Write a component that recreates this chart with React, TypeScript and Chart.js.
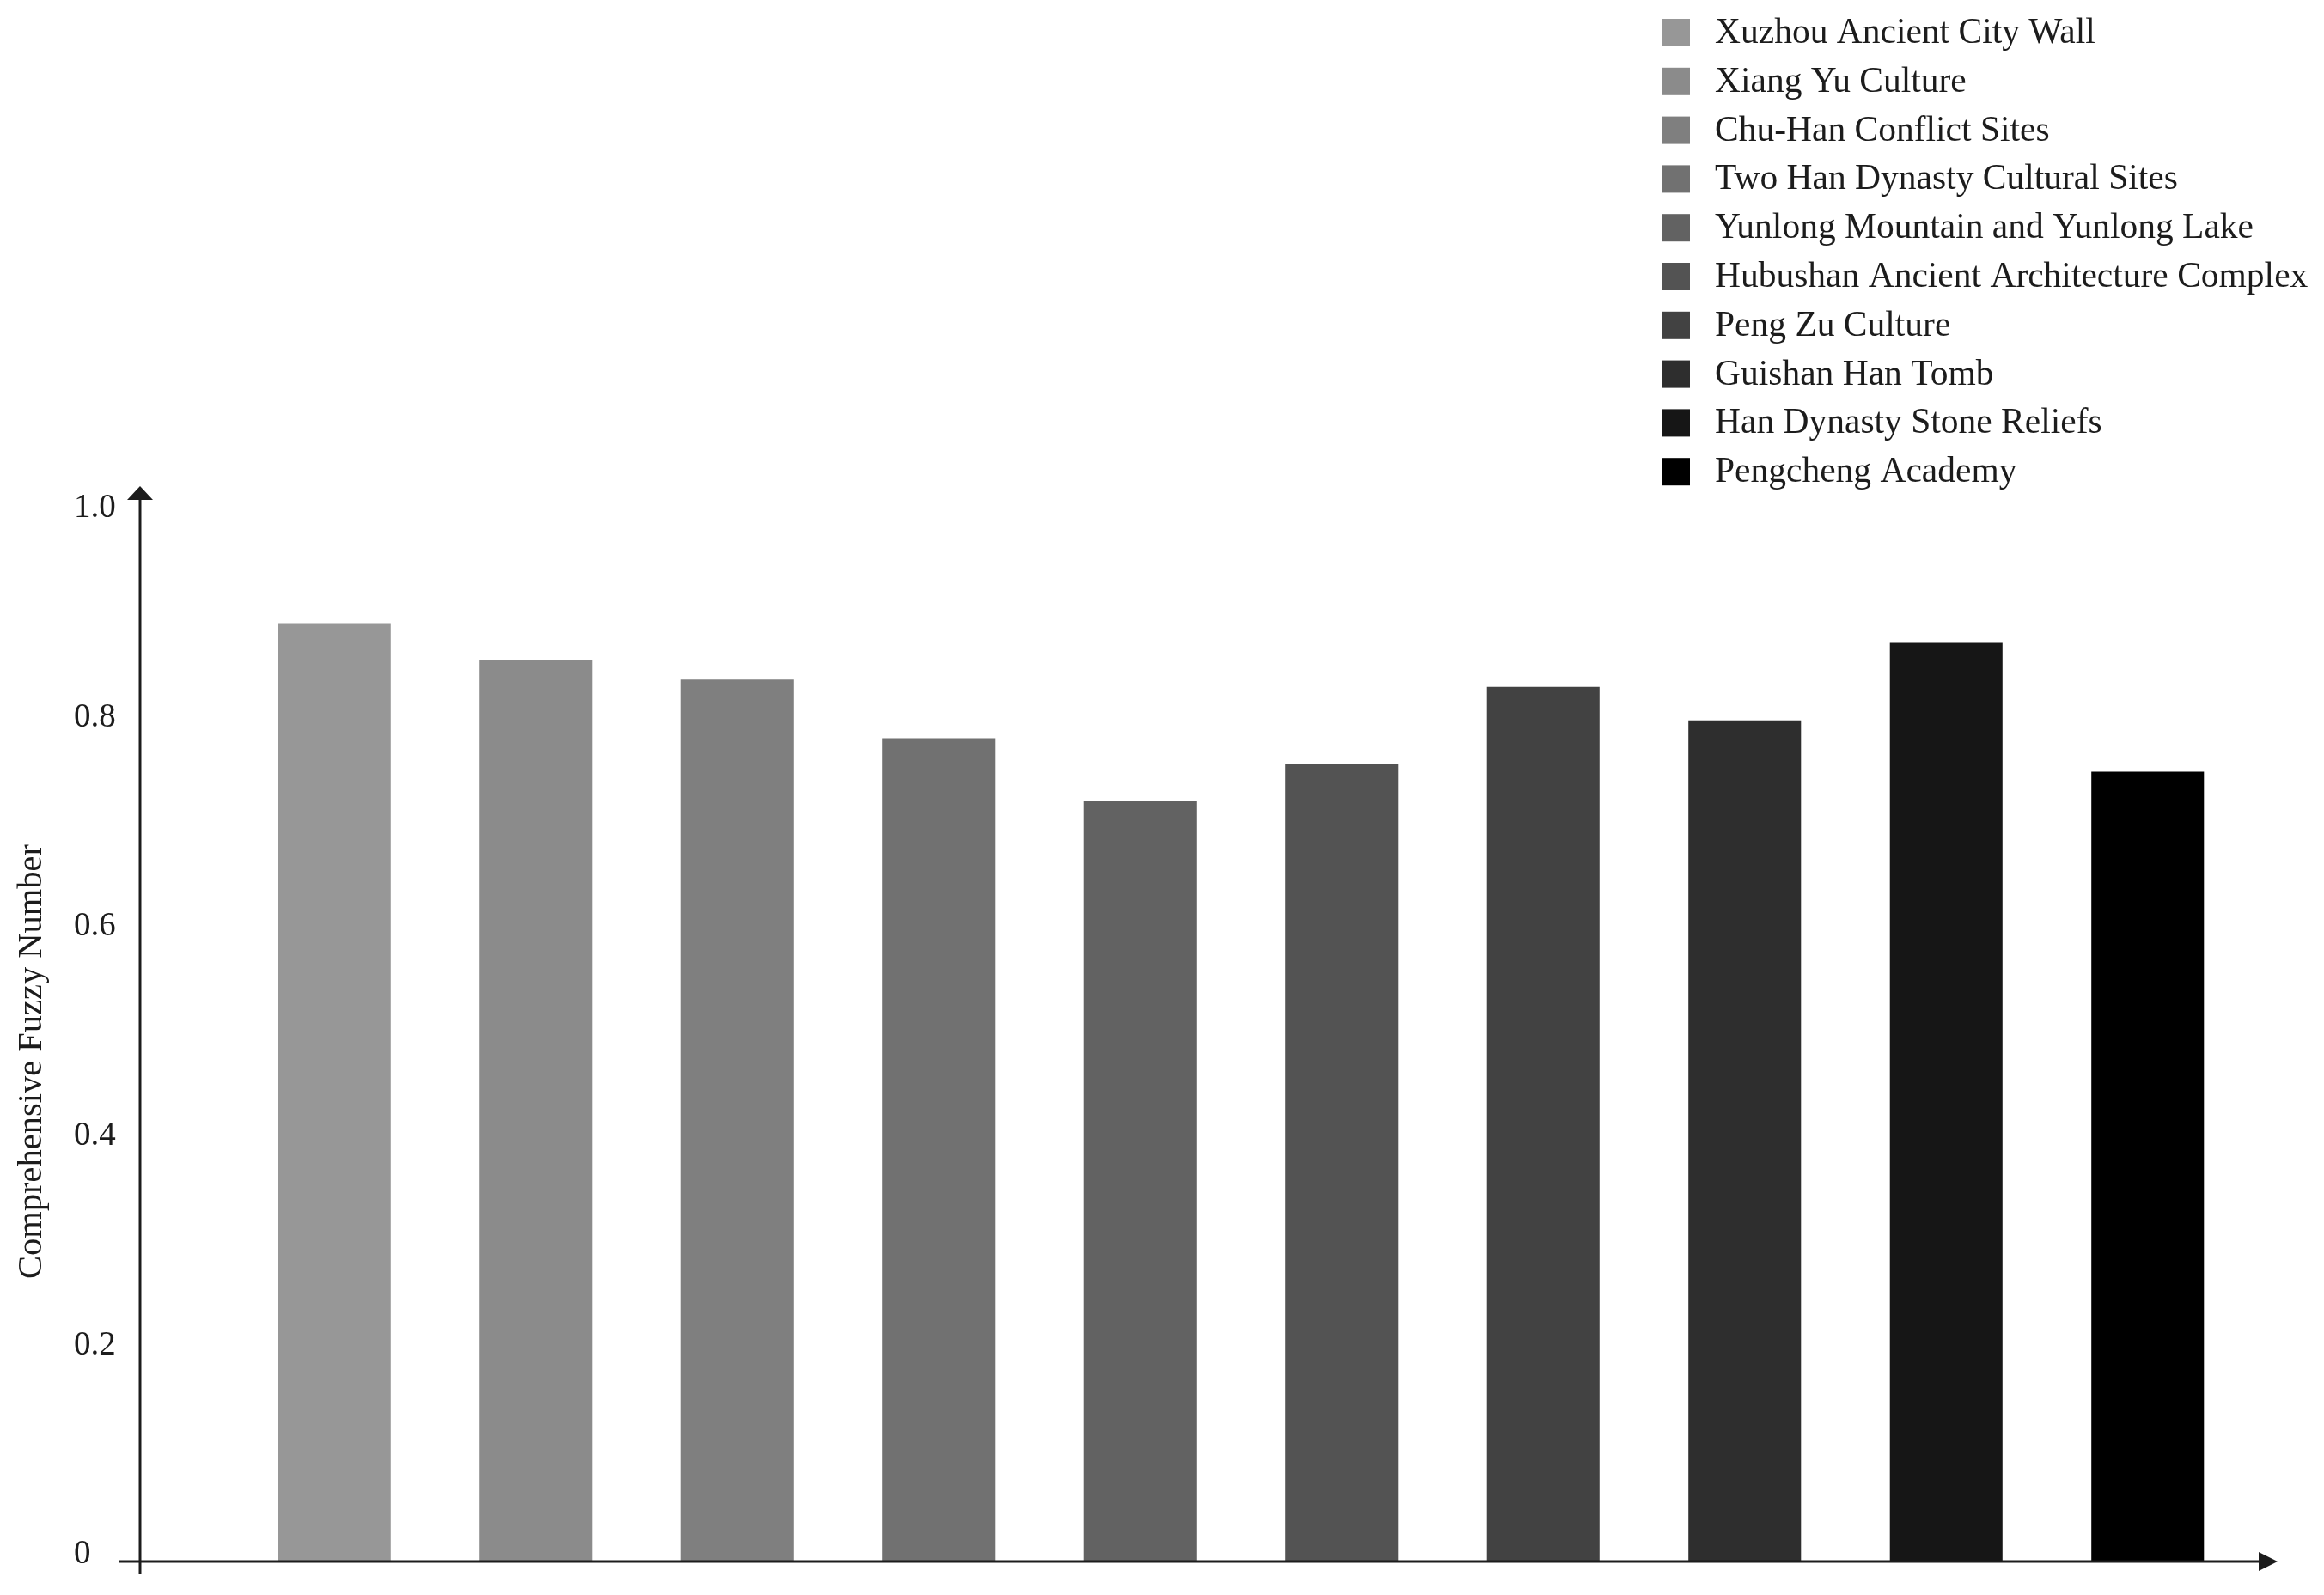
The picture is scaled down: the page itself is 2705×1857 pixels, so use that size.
import React, { useEffect, useRef } from 'react';
import { Chart, registerables } from 'chart.js';

Chart.register(...registerables);

const categories = [
  'Xuzhou Ancient City Wall',
  'Xiang Yu Culture',
  'Chu-Han Conflict Sites',
  'Two Han Dynasty Cultural Sites',
  'Yunlong Mountain and Yunlong Lake',
  'Hubushan Ancient Architecture Complex',
  'Peng Zu Culture',
  'Guishan Han Tomb',
  'Han Dynasty Stone Reliefs',
  'Pengcheng Academy',
];
const values = [0.897, 0.862, 0.843, 0.787, 0.727, 0.762, 0.836, 0.804, 0.878, 0.755];
const colors = [
  '#979797', '#8b8b8b', '#7f7f7f', '#717171', '#626262',
  '#535353', '#424242', '#2e2e2e', '#161616', '#000000',
];
const yTickValues = [0, 0.2, 0.4, 0.6, 0.8, 1.0];
const yTickLabels = ['0', '0.2', '0.4', '0.6', '0.8', '1.0'];
const yTitle = 'Comprehensive Fuzzy Number';

const FONT = '"Liberation Serif", "Times New Roman", serif';
const INK = '#1c1c1c';

const decorPlugin = {
  id: 'decor',
  afterDatasetsDraw(chart: any) {
    const ctx = chart.ctx as CanvasRenderingContext2D;
    const ys = chart.scales.y;
    const zeroY = ys.getPixelForValue(0);
    const topY = ys.getPixelForValue(1);
    const axisX = 163;
    ctx.save();
    ctx.strokeStyle = INK;
    ctx.fillStyle = INK;
    ctx.lineWidth = 3;
    // y axis
    ctx.beginPath();
    ctx.moveTo(axisX, zeroY + 14);
    ctx.lineTo(axisX, topY - 20);
    ctx.stroke();
    ctx.beginPath();
    ctx.moveTo(axisX, topY - 34);
    ctx.lineTo(axisX - 15, topY - 18);
    ctx.lineTo(axisX + 15, topY - 18);
    ctx.closePath();
    ctx.fill();
    // x axis
    ctx.beginPath();
    ctx.moveTo(139, zeroY);
    ctx.lineTo(2632, zeroY);
    ctx.stroke();
    ctx.beginPath();
    ctx.moveTo(2651, zeroY);
    ctx.lineTo(2629, zeroY - 11);
    ctx.lineTo(2629, zeroY + 11);
    ctx.closePath();
    ctx.fill();
    ctx.restore();
  },
  afterDraw(chart: any) {
    const ctx = chart.ctx as CanvasRenderingContext2D;
    ctx.save();
    // y title
    ctx.fillStyle = INK;
    ctx.font = `40.5px ${FONT}`;
    ctx.textAlign = 'center';
    ctx.textBaseline = 'middle';
    ctx.translate(37, 1236);
    ctx.rotate(-Math.PI / 2);
    ctx.fillText(yTitle, 0, 0);
    ctx.restore();

    // legend
    ctx.save();
    ctx.font = `41.5px ${FONT}`;
    ctx.textAlign = 'left';
    ctx.textBaseline = 'middle';
    categories.forEach((name, i) => {
      const cy = 38 + i * 56.8;
      ctx.fillStyle = colors[i];
      ctx.fillRect(1935, cy - 16, 32, 32);
      ctx.fillStyle = INK;
      ctx.fillText(name, 1996, cy + 1);
    });
    ctx.restore();
  },
};

export default function App() {
  const ref = useRef<HTMLCanvasElement | null>(null);
  useEffect(() => {
    if (!ref.current) return;
    const chart = new Chart(ref.current, {
      type: 'bar',
      data: {
        labels: categories,
        datasets: [
          {
            data: values,
            backgroundColor: colors,
            borderWidth: 0,
            categoryPercentage: 1,
            barPercentage: 0.559,
          },
        ],
      },
      options: {
        animation: false,
        responsive: false,
        devicePixelRatio: 1,
        layout: { padding: { left: 86, right: 88, top: 600, bottom: 39 } },
        plugins: {
          legend: { display: false },
          tooltip: { enabled: false },
          title: { display: false },
        },
        scales: {
          x: {
            display: false,
            offset: true,
            grid: { display: false },
          },
          y: {
            min: 0,
            max: 1,
            grid: { display: false },
            border: { display: false },
            afterBuildTicks: (scale: any) => {
              scale.ticks = yTickValues.map((v) => ({ value: v }));
            },
            afterFit: (scale: any) => {
              scale.width = 186;
              scale.paddingTop = 0;
              scale.paddingBottom = 0;
            },
            ticks: {
              crossAlign: 'far',
              padding: 0,
              labelOffset: -8,
              color: INK,
              font: { family: FONT, size: 39 },
              callback: (_v: any, i: number) => yTickLabels[i],
            },
          },
        },
      },
      plugins: [decorPlugin],
    } as any);
    return () => chart.destroy();
  }, []);

  return (
    <div style={{ position: 'fixed', left: 0, top: 0, width: 2705, height: 1857, background: '#fff' }}>
      <canvas ref={ref} width={2705} height={1857} style={{ display: 'block' }} />
    </div>
  );
}
